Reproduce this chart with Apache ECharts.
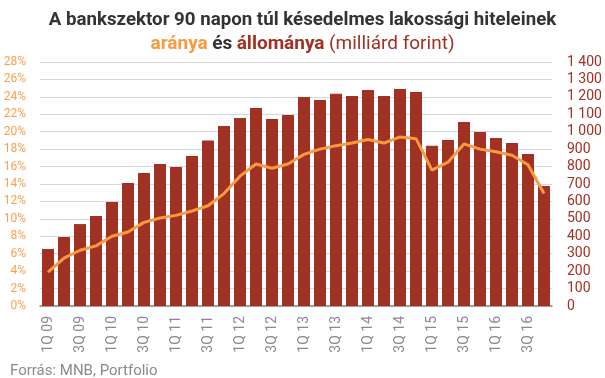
<!DOCTYPE html>
<html>
<head>
<meta charset="utf-8">
<script src="https://cdn.jsdelivr.net/npm/echarts@6/dist/echarts.min.js"></script>
<style>html,body{margin:0;padding:0;background:#fff}#c{width:605px;height:378px}</style>
</head>
<body>
<div id="c"></div>
<script>
const categories = [];
const years = ['09','10','11','12','13','14','15','16'];
for (const y of years) { for (let q = 1; q <= 4; q++) categories.push(q + 'Q ' + y); }
const stockValues = [327,396,470,516,597,706,763,815,798,861,949,1033,1079,1136,1073,1096,1199,1182,1218,1205,1239,1205,1245,1228,920,953,1056,998,964,935,872,689];
const ratioValues = [3.9,5.5,6.4,6.9,8.0,8.5,9.6,10.1,10.4,10.9,11.5,12.9,14.9,16.3,15.8,16.3,17.4,18.0,18.4,18.7,19.1,18.7,19.4,19.2,15.6,16.5,18.6,18.0,17.7,17.3,16.2,12.9];

const ORANGE = '#f79a42';
const RED = '#a13123';
const DARK = '#333333';
const chart = echarts.init(document.getElementById('c'), null, {renderer:'canvas'});
chart.setOption({
  animation: false,
  textStyle: {fontFamily: 'Roboto'},
  title: [
    {text: 'A bankszektor 90 napon túl késedelmes lakossági hiteleinek', left: 'center', top: 6,
     padding: [5, 0, 5, 14],
     textStyle: {fontFamily: 'Roboto', fontWeight: 'bold', fontSize: 18.7, color: DARK}},
    {text: '{o|aránya} {d|és} {r|állománya} {n|(milliárd forint)}', left: 'center', top: 30,
     padding: [5, 0, 5, 14],
     textStyle: {rich: {
       o: {fontFamily: 'Roboto', fontWeight: 'bold', fontSize: 19, color: ORANGE},
       d: {fontFamily: 'Roboto', fontWeight: 'bold', fontSize: 19, color: DARK},
       r: {fontFamily: 'Roboto', fontWeight: 'bold', fontSize: 19, color: RED},
       n: {fontFamily: 'Roboto', fontWeight: 'normal', fontSize: 19, color: RED}
     }}},
    {text: 'Forrás: MNB, Portfolio', left: 5, top: 359,
     textStyle: {fontFamily: 'Roboto', fontWeight: 'normal', fontSize: 15, color: '#8a8a8a'}}
  ],
  grid: {left: 40, right: 53, top: 62, bottom: 72, containLabel: false},
  xAxis: {
    type: 'category', data: categories,
    axisLine: {lineStyle: {color: '#8c8c8c', width: 1.5}},
    axisTick: {show: false},
    axisLabel: {interval: 1, rotate: 90, color: '#8a8a8a', fontSize: 14, fontFamily: 'Roboto', margin: 10}
  },
  yAxis: [
    {type: 'value', min: 0, max: 28, interval: 2, position: 'left',
     axisLabel: {formatter: '{value}%', color: '#f8a04f', fontSize: 12, fontFamily: 'Roboto', margin: 14},
     axisLine: {show: false}, axisTick: {show: false}, splitLine: {show: false}},
    {type: 'value', min: 0, max: 1400, interval: 100, position: 'right',
     axisLabel: {formatter: v => v >= 1000 ? Math.floor(v/1000) + ' ' + String(v%1000).padStart(3,'0') : String(v),
                 color: RED, fontSize: 14, fontFamily: 'Roboto', margin: 15},
     axisLine: {show: false}, axisTick: {show: false},
     splitLine: {lineStyle: {color: '#d9d9d9', width: 1}}}
  ],
  series: [
    {type: 'bar', yAxisIndex: 1, data: stockValues, itemStyle: {color: RED}, barCategoryGap: '25%'},
    {type: 'line', yAxisIndex: 0, data: ratioValues, showSymbol: false, symbol: 'none',
     lineStyle: {color: ORANGE, width: 3}, z: 5}
  ]
});
</script>
</body>
</html>
